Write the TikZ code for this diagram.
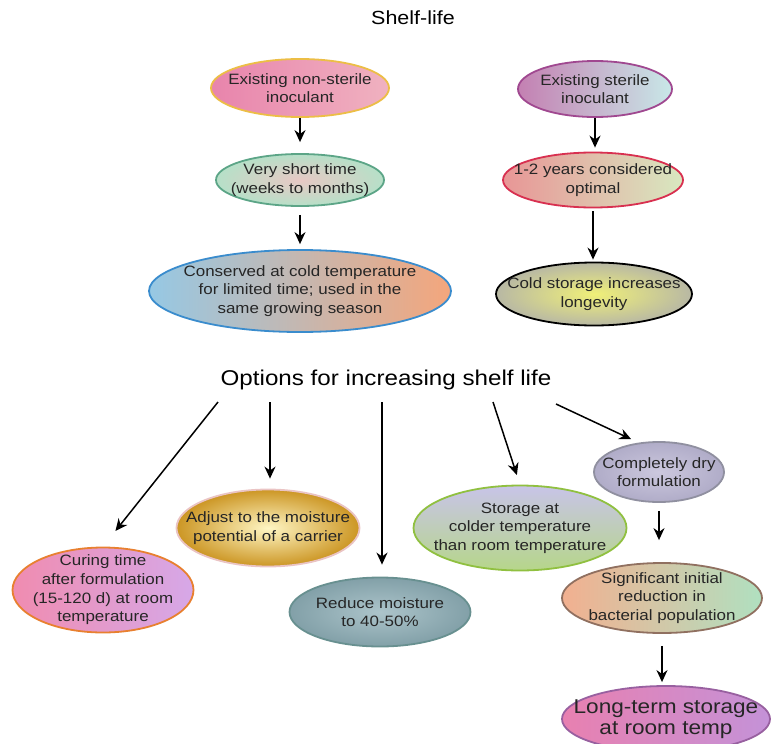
\documentclass[tikz,border=0pt]{standalone}
\usepackage{fontspec}
\setmainfont{Liberation Sans}[FakeStretch=1.13]
\usepackage{tikz}
\usetikzlibrary{shapes.geometric,arrows.meta}
\definecolor{nsline}{RGB}{236,190,70}
\definecolor{nsleft}{RGB}{232,132,172}
\definecolor{nsright}{RGB}{240,178,192}
\definecolor{shline}{RGB}{92,165,135}
\definecolor{shin}{RGB}{232,200,196}
\definecolor{shout}{RGB}{182,224,200}
\definecolor{coline}{RGB}{58,140,205}
\definecolor{coleft}{RGB}{150,200,228}
\definecolor{coright}{RGB}{244,166,124}
\definecolor{stline}{RGB}{160,72,144}
\definecolor{stleft}{RGB}{196,128,178}
\definecolor{stright}{RGB}{200,232,232}
\definecolor{opline}{RGB}{216,48,80}
\definecolor{opleft}{RGB}{232,150,150}
\definecolor{opright}{RGB}{216,232,192}
\definecolor{cdin}{RGB}{240,240,120}
\definecolor{cdout}{RGB}{184,184,164}
\definecolor{culine}{RGB}{232,128,48}
\definecolor{culeft}{RGB}{240,140,176}
\definecolor{curight}{RGB}{214,168,232}
\definecolor{adline}{RGB}{234,196,196}
\definecolor{adin}{RGB}{255,246,196}
\definecolor{adout}{RGB}{204,150,36}
\definecolor{reline}{RGB}{104,144,144}
\definecolor{rein}{RGB}{172,196,202}
\definecolor{reout}{RGB}{130,160,168}
\definecolor{clline}{RGB}{144,192,64}
\definecolor{cltop}{RGB}{200,196,232}
\definecolor{clbot}{RGB}{182,214,138}
\definecolor{dryline}{RGB}{144,144,160}
\definecolor{dryin}{RGB}{204,200,222}
\definecolor{dryout}{RGB}{176,172,200}
\definecolor{rdline}{RGB}{144,112,96}
\definecolor{rdleft}{RGB}{242,176,144}
\definecolor{rdright}{RGB}{176,224,192}
\definecolor{ltline}{RGB}{152,96,160}
\definecolor{ltleft}{RGB}{232,128,176}
\definecolor{ltright}{RGB}{196,146,216}

\begin{document}
\begin{tikzpicture}[x=0.5pt,y=-0.5pt,
    oval/.style={ellipse, draw, line width=0.9pt, inner sep=-50pt, align=center,
      text=black!85, font=\fontsize{7.5}{9.3}\selectfont},
    arr/.style={-{Stealth[length=6pt,width=5.5pt]}, line width=0.75pt}]
    \useasboundingbox (0,0) rectangle (771,744);

    % shelf-life of existing inoculants
    \node[font=\fontsize{9.5}{11}\selectfont] (title) at (413,18) {Shelf-life};
    \node[oval, draw=nsline, left color=nsleft, right color=nsright, minimum width=89pt, minimum height=29pt] (nonsterile) at (300,88) {Existing non-sterile\\inoculant};
    \node[oval, draw=shline, inner color=shin, outer color=shout, minimum width=84pt, minimum height=26pt] (short) at (300,180) {Very short time\\(weeks to months)};
    \node[oval, draw=coline, left color=coleft, right color=coright, minimum width=151pt, minimum height=41pt] (conserved) at (300,291) {Conserved at cold temperature\\for limited time; used in the\\same growing season};
    \node[oval, draw=stline, left color=stleft, right color=stright, minimum width=77pt, minimum height=28pt] (sterile) at (595,89) {Existing sterile\\inoculant};
    \node[oval, draw=opline, left color=opleft, right color=opright, minimum width=90pt, minimum height=27.5pt] (optimal) at (593,180) {1-2 years considered\\optimal};
    \node[oval, draw=black, inner color=cdin, outer color=cdout, minimum width=98pt, minimum height=31.5pt] (cold) at (594,294) {Cold storage increases\\longevity};

    \draw[arr, shorten >=5.5pt] (nonsterile) -- (short);
    \draw[arr, shorten <=4pt, shorten >=2.5pt] (short) -- (conserved);
    \draw[arr, shorten >=2pt] (sterile) -- (sterile |- optimal.north);
    \draw[arr, shorten <=1.5pt, shorten >=1pt] (optimal) -- (optimal |- cold.north);

    % options
    \node[font=\fontsize{10.7}{12}\selectfont] (options) at (386,380) {Options for increasing shelf life};
    \coordinate (o1) at (218,402);
    \coordinate (o2) at (270,402);
    \coordinate (o3) at (382,402);
    \coordinate (o4) at (493,402);
    \coordinate (o5) at (556,404);

    \node[oval, draw=culine, left color=culeft, right color=curight, minimum width=90.5pt, minimum height=42.5pt] (curing) at (103,590) {Curing time\\after formulation\\(15-120 d) at room\\temperature};
    \node[oval, draw=adline, inner color=adin, outer color=adout, minimum width=91.5pt, minimum height=38.5pt] (adjust) at (268,528) {Adjust to the moisture\\potential of a carrier};
    \node[oval, draw=reline, inner color=rein, outer color=reout, minimum width=90.5pt, minimum height=34.5pt] (reduce) at (380,612) {Reduce moisture\\to 40-50\%};
    \node[oval, draw=clline, top color=cltop, bottom color=clbot, minimum width=106.5pt, minimum height=42.5pt] (colder) at (520,528) {Storage at\\colder temperature\\than room temperature};
    \node[oval, draw=dryline, inner color=dryin, outer color=dryout, minimum width=65pt, minimum height=30pt] (dry) at (659,472) {Completely dry\\formulation};
    \node[oval, draw=rdline, left color=rdleft, right color=rdright, minimum width=100pt, minimum height=35pt] (reduction) at (662,598) {Significant initial\\reduction in\\bacterial population};
    \node[oval, draw=ltline, left color=ltleft, right color=ltright, minimum width=104pt, minimum height=33pt, font=\fontsize{10}{10.5}\selectfont] (longterm) at (666,719) {Long-term storage\\at room temp};

    \draw[arr, shorten >=10pt] (o1) -- (curing.north);
    \draw[arr, shorten >=5pt] (o2) -- (o2 |- adjust.north);
    \draw[arr, shorten >=6pt] (o3) -- (o3 |- reduce.north);
    \draw[arr, shorten >=5pt] (o4) -- (colder.north);
    \draw[arr, shorten >=4pt] (o5) -- (dry.125);
    \draw[arr, shorten <=4pt, shorten >=11pt] (dry) -- (dry |- reduction.north);
    \draw[arr, shorten <=6pt, shorten >=1.5pt] (reduction) -- (reduction |- longterm.north);
\end{tikzpicture}
\end{document}
